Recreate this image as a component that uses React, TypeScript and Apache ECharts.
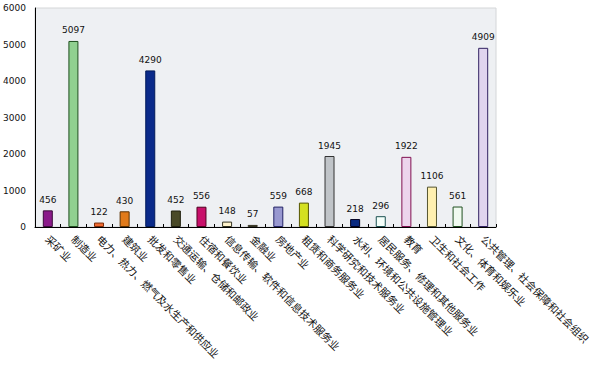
import React, { useEffect, useRef } from "react";
import * as echarts from "echarts";

const categories = [
  "采矿业",
  "制造业",
  "电力、热力、燃气及水生产和供应业",
  "建筑业",
  "批发和零售业",
  "交通运输、仓储和邮政业",
  "住宿和餐饮业",
  "信息传输、软件和信息技术服务业",
  "金融业",
  "房地产业",
  "租赁和商务服务业",
  "科学研究和技术服务业",
  "水利、环境和公共设施管理业",
  "居民服务、修理和其他服务业",
  "教育",
  "卫生和社会工作",
  "文化、体育和娱乐业",
  "公共管理、社会保障和社会组织",
];

const values = [456, 5097, 122, 430, 4290, 452, 556, 148, 57, 559, 668, 1945, 218, 296, 1922, 1106, 561, 4909];

const fillColors = [
  "#8a1a8a", "#90d090", "#f26a30", "#e07a1a", "#0a2a8a", "#4a4a28",
  "#c8106a", "#fff3cc", "#8a5a40", "#9898d0", "#d4e020", "#c0c4c8",
  "#0a2a80", "#f4fffa", "#ecd4ec", "#fff0b0", "#f0faf0", "#e0d4ee",
];

const borderColors = [
  "#3a0a3a", "#1f4f1f", "#7a2a08", "#5a3000", "#001a5a", "#222211",
  "#500020", "#333322", "#333322", "#222266", "#555500", "#333333",
  "#000022", "#1a5050", "#801050", "#555530", "#205020", "#302060",
];

const yTicks = [0, 1000, 2000, 3000, 4000, 5000, 6000];

export default function App() {
  const ref = useRef<HTMLDivElement>(null);
  useEffect(() => {
    if (!ref.current) return;
    const chart = echarts.init(ref.current, undefined, { renderer: "svg" });
    chart.setOption({
      animation: false,
      backgroundColor: "#ffffff",
      grid: {
        left: 35,
        right: 104,
        top: 8,
        bottom: 139,
        containLabel: false,
        outerBoundsMode: "none",
        show: true,
        backgroundColor: "#eef0f3",
        borderColor: "#d4d6d8",
        borderWidth: 1,
      },
      xAxis: {
        type: "category",
        data: categories,
        boundaryGap: true,
        axisLine: { show: true, lineStyle: { color: "#000", width: 1 } },
        axisTick: { show: true, inside: true, length: 3, lineStyle: { color: "#000" } },
        axisLabel: {
          interval: 0,
          rotate: -45,
          fontSize: 10.5,
          color: "#111",
          fontFamily: "Noto Sans CJK SC",
          margin: 10,
        },
      },
      yAxis: {
        type: "value",
        min: yTicks[0],
        max: yTicks[yTicks.length - 1],
        interval: 1000,
        axisLine: { show: true, lineStyle: { color: "#000", width: 1 } },
        axisTick: { show: false },
        splitLine: { show: false },
        axisLabel: {
          fontSize: 9,
          color: "#111",
          fontFamily: "DejaVu Sans",
          margin: 9,
          formatter: (v: number) => String(v),
        },
      },
      series: [
        {
          type: "bar",
          barWidth: 10,
          data: values.map((v, i) => ({
            value: v,
            itemStyle: { color: fillColors[i], borderColor: borderColors[i], borderWidth: 1 },
          })),
          label: {
            show: true,
            position: "top",
            distance: 6,
            fontSize: 9,
            color: "#111",
            fontFamily: "DejaVu Sans",
          },
        },
      ],
    });
    return () => chart.dispose();
  }, []);
  return <div ref={ref} style={{ width: 600, height: 366, position: "absolute", left: 0, top: 0 }} />;
}
